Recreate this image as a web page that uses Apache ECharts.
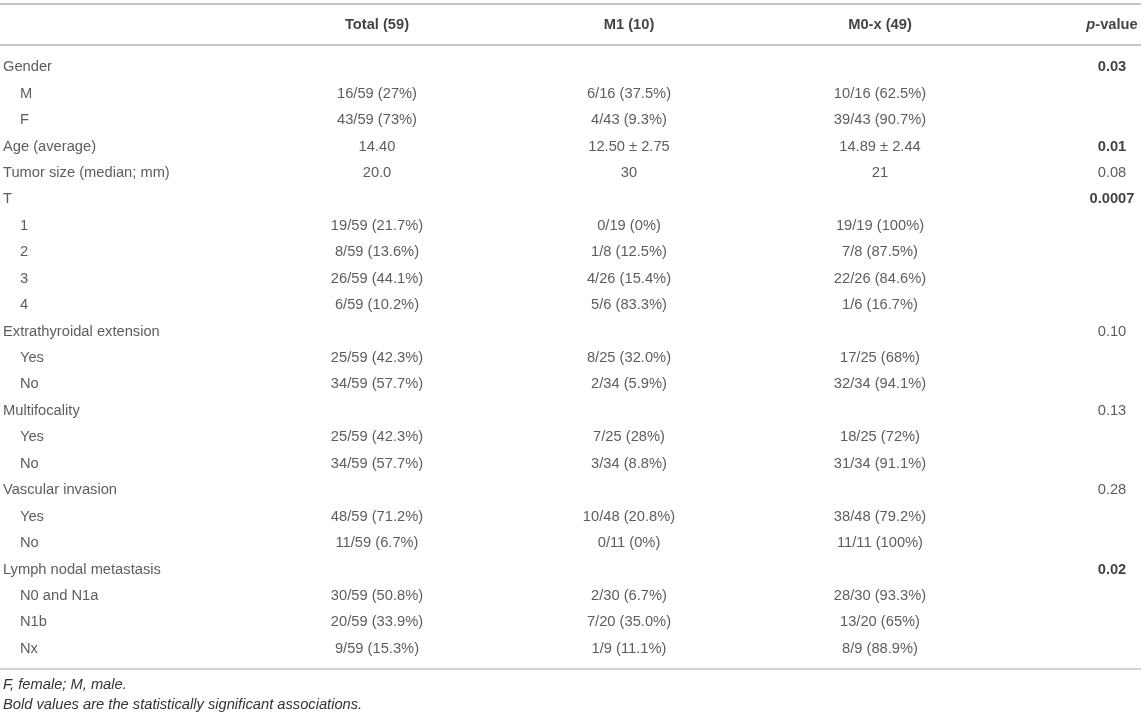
<!DOCTYPE html>
<html lang="en">
  <head>
    <meta charset="UTF-8" />
    <title>Clinical characteristics by M status</title>
    <script src="https://cdn.jsdelivr.net/npm/echarts@6/dist/echarts.min.js"></script>
    <style>
      html, body { margin: 0; padding: 0; background: #fff; }
      #table { width: 1144px; height: 717px; }
    </style>
  </head>
  <body>
    <div id="table"></div>
    <script>
      // column headers
      const headers = ["", "Total (59)", "M1 (10)", "M0-x (49)", "p-value"];

      // row labels, 0 = group row, 1 = indented sub row
      const rowLabels = [
        "Gender", "M", "F", "Age (average)", "Tumor size (median; mm)", "T",
        "1", "2", "3", "4", "Extrathyroidal extension", "Yes", "No",
        "Multifocality", "Yes", "No", "Vascular invasion", "Yes", "No",
        "Lymph nodal metastasis", "N0 and N1a", "N1b", "Nx"
      ];
      const rowLevel = [0, 1, 1, 0, 0, 0, 1, 1, 1, 1, 0, 1, 1, 0, 1, 1, 0, 1, 1, 0, 1, 1, 1];

      const totalCol = [
        "", "16/59 (27%)", "43/59 (73%)", "14.40", "20.0", "",
        "19/59 (21.7%)", "8/59 (13.6%)", "26/59 (44.1%)", "6/59 (10.2%)", "",
        "25/59 (42.3%)", "34/59 (57.7%)", "", "25/59 (42.3%)", "34/59 (57.7%)", "",
        "48/59 (71.2%)", "11/59 (6.7%)", "", "30/59 (50.8%)", "20/59 (33.9%)", "9/59 (15.3%)"
      ];
      const m1Col = [
        "", "6/16 (37.5%)", "4/43 (9.3%)", "12.50 \u00b1 2.75", "30", "",
        "0/19 (0%)", "1/8 (12.5%)", "4/26 (15.4%)", "5/6 (83.3%)", "",
        "8/25 (32.0%)", "2/34 (5.9%)", "", "7/25 (28%)", "3/34 (8.8%)", "",
        "10/48 (20.8%)", "0/11 (0%)", "", "2/30 (6.7%)", "7/20 (35.0%)", "1/9 (11.1%)"
      ];
      const m0Col = [
        "", "10/16 (62.5%)", "39/43 (90.7%)", "14.89 \u00b1 2.44", "21", "",
        "19/19 (100%)", "7/8 (87.5%)", "22/26 (84.6%)", "1/6 (16.7%)", "",
        "17/25 (68%)", "32/34 (94.1%)", "", "18/25 (72%)", "31/34 (91.1%)", "",
        "38/48 (79.2%)", "11/11 (100%)", "", "28/30 (93.3%)", "13/20 (65%)", "8/9 (88.9%)"
      ];
      const pValues = [
        "0.03", "", "", "0.01", "0.08", "0.0007", "", "", "", "", "0.10", "", "",
        "0.13", "", "", "0.28", "", "", "0.02", "", "", ""
      ];
      const pSignificant = [
        true, false, false, true, false, true, false, false, false, false, false, false, false,
        false, false, false, false, false, false, true, false, false, false
      ];

      const footnotes = [
        "F, female; M, male.",
        "Bold values are the statistically significant associations."
      ];

      // layout: anchor of each column on the 0..1144 x scale
      const colX = [3, 377, 629, 880, 1112];
      const indentX = 20;
      const font = "'Liberation Sans', Arial, Helvetica, sans-serif";
      const fontSize = 14.7;
      const ruleColor = "#c4c4c4";

      const chart = echarts.init(document.getElementById("table"), null, { renderer: "canvas" });

      function textSeries(name, gridIdx, points, align) {
        return {
          name: name,
          type: "scatter",
          xAxisIndex: gridIdx,
          yAxisIndex: gridIdx,
          symbolSize: 0.1,
          itemStyle: { color: "transparent" },
          silent: true,
          data: points,
          label: {
            show: true,
            position: "inside",
            align: align,
            verticalAlign: "middle",
            fontFamily: font,
            fontSize: fontSize,
            color: "#333",
            formatter: (p) => p.data.text
          }
        };
      }

      function column(values, x, boldFlags) {
        const pts = [];
        values.forEach((v, i) => {
          if (v === "") return;
          const pt = { value: [x, rowLabels[i] + "#" + i], text: v };
          if (boldFlags && boldFlags[i]) {
            pt.label = { fontWeight: "bold", color: "#111" };
          }
          pts.push(pt);
        });
        return pts;
      }

      const rowKeys = rowLabels.map((l, i) => l + "#" + i);

      const labelPoints = rowLabels.map((l, i) => ({
        value: [rowLevel[i] ? indentX : colX[0], rowKeys[i]],
        text: l
      }));

      const headerPoints = headers.slice(1).map((h, j) => ({
        value: [colX[j + 1], "header"],
        text: h === "p-value" ? "{it|p}-value" : h
      }));

      const hiddenX = {
        type: "value", min: 0, max: 1144, show: false
      };

      chart.setOption({
        animation: false,
        backgroundColor: "#fff",
        title: {
          left: 3,
          top: 675,
          padding: 0,
          text: footnotes.join("\n"),
          textStyle: {
            fontFamily: font,
            fontSize: fontSize,
            fontStyle: "italic",
            fontWeight: "normal",
            color: "#333",
            lineHeight: 20
          }
        },
        grid: [
          { left: 0, right: 0, top: 4, height: 41 },
          { left: 0, right: 0, top: 54, height: 608 }
        ],
        xAxis: [
          Object.assign({ gridIndex: 0 }, hiddenX),
          Object.assign({ gridIndex: 1 }, hiddenX)
        ],
        yAxis: [
          { gridIndex: 0, type: "category", data: ["header"], show: false },
          { gridIndex: 1, type: "category", data: rowKeys, inverse: true, show: false }
        ],
        series: [
          (() => {
            const s = textSeries("header", 0, headerPoints, "center");
            s.label.fontWeight = "bold";
            s.label.color = "#111";
            s.label.rich = {
              it: { fontFamily: font, fontSize: fontSize, fontStyle: "italic", fontWeight: "bold", color: "#111" }
            };
            return s;
          })(),
          textSeries("label", 1, labelPoints, "left"),
          textSeries("total", 1, column(totalCol, colX[1]), "center"),
          textSeries("m1", 1, column(m1Col, colX[2]), "center"),
          textSeries("m0", 1, column(m0Col, colX[3]), "center"),
          textSeries("p", 1, column(pValues, colX[4], pSignificant), "center")
        ],
        graphic: [
          { type: "line", shape: { x1: 0, y1: 4, x2: 1141, y2: 4 }, style: { stroke: ruleColor, lineWidth: 2 }, silent: true },
          { type: "line", shape: { x1: 0, y1: 45, x2: 1141, y2: 45 }, style: { stroke: ruleColor, lineWidth: 2 }, silent: true },
          { type: "line", shape: { x1: 0, y1: 669, x2: 1141, y2: 669 }, style: { stroke: ruleColor, lineWidth: 1.5 }, silent: true }
        ]
      });
    </script>
  </body>
</html>
